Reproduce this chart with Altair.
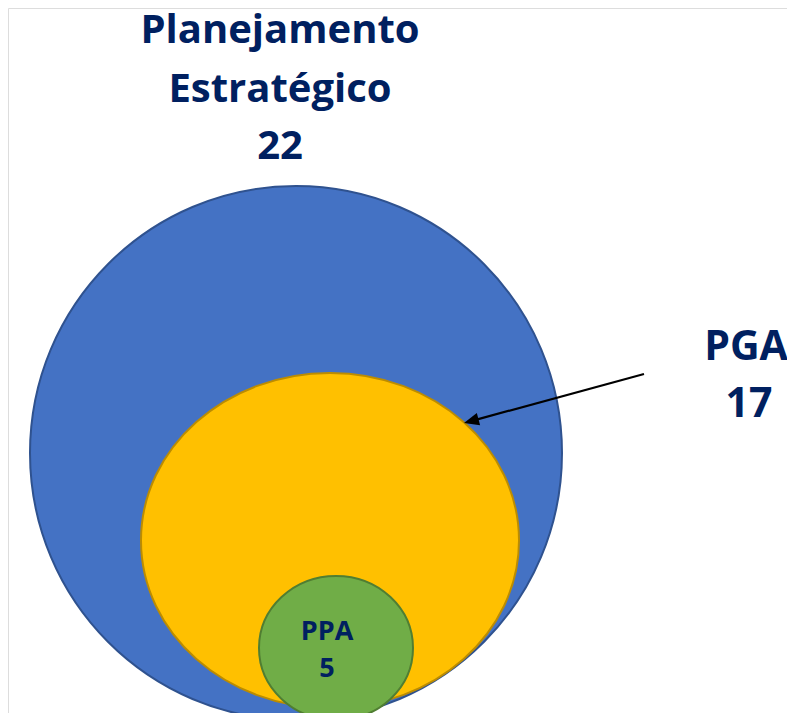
import math
import altair as alt
import pandas as pd

# ---- data ----
set_names = ["Planejamento Estratégico", "PGA", "PPA"]
set_counts = [22, 17, 5]

# ---- layout (screen pixels of the 795x721 page) ----
W, H, M = 795, 721, 8
PW, PH = W - 2 * M, H - 2 * M          # drawing area that fits inside the page
circ_cx = [296, 330, 336]
circ_cy = [453, 540.5, 648]
circ_rx = [266, 189, 77]
circ_ry = [267, 167.5, 72]
circ_fill = ["#4472C4", "#FFC000", "#70AD47"]
circ_stroke = ["#2F528F", "#BC8C00", "#507E32"]

def ellipse_path(k):
    return f"M-1,0A1,{k:.4f} 0 1,1 1,0A1,{k:.4f} 0 1,1 -1,0Z"

circles = pd.DataFrame({
    "name": set_names,
    "x": circ_cx,
    "y": circ_cy,
    "size": [(2 * r) ** 2 for r in circ_rx],
    "shape": [ellipse_path(ry / rx) for rx, ry in zip(circ_rx, circ_ry)],
    "fill": circ_fill,
    "stroke": circ_stroke,
    "order": [0, 1, 2],
})

# labels
title_lines = ["Planejamento", "Estratégico", str(set_counts[0])]
pga_lines = [set_names[1], str(set_counts[1])]
ppa_lines = [set_names[2], str(set_counts[2])]

labels = pd.DataFrame({
    "text": title_lines + pga_lines + ppa_lines,
    "x": [280, 280, 280, 746, 749, 327, 327],
    "y": [43, 101.5, 159, 360, 417, 640, 677],
    "fs": [40, 40, 40, 41, 41, 27, 27],
})

arrow_start = (644, 374)
arrow_tip = (464, 423)
ang = math.degrees(math.atan2(arrow_start[1] - arrow_tip[1], arrow_start[0] - arrow_tip[0]))
ang = ang % 360
head_len = 15
shaft_end = (arrow_tip[0] + (head_len - 3) * math.cos(math.radians(ang)),
             arrow_tip[1] + (head_len - 3) * math.sin(math.radians(ang)))

shaft = pd.DataFrame({"x": [arrow_start[0]], "y": [arrow_start[1]],
                      "x2": [shaft_end[0]], "y2": [shaft_end[1]]})
head = pd.DataFrame({"x": [arrow_tip[0]], "y": [arrow_tip[1]], "angle": [ang]})

xs = alt.Scale(domain=[M, M + PW], range=[0, PW])
ys = alt.Scale(domain=[M, M + PH], range=[0, PH])

circ_layer = alt.Chart(circles).mark_point(filled=True, opacity=1, strokeWidth=2).encode(
    x=alt.X("x:Q", scale=xs, axis=None),
    y=alt.Y("y:Q", scale=ys, axis=None),
    size=alt.Size("size:Q", scale=None),
    shape=alt.Shape("shape:N", scale=None),
    fill=alt.Fill("fill:N", scale=None),
    stroke=alt.Stroke("stroke:N", scale=None),
    order=alt.Order("order:Q"),
)

shaft_layer = alt.Chart(shaft).mark_rule(color="black", strokeWidth=2.2).encode(
    x=alt.X("x:Q", scale=xs, axis=None),
    y=alt.Y("y:Q", scale=ys, axis=None),
    x2="x2:Q",
    y2="y2:Q",
)

head_layer = alt.Chart(head).mark_point(
    shape="M0,0L1,-0.42L1,0.42Z", filled=True, opacity=1, color="black",
    size=(2 * head_len) ** 2,
).encode(
    x=alt.X("x:Q", scale=xs, axis=None),
    y=alt.Y("y:Q", scale=ys, axis=None),
    angle=alt.Angle("angle:Q", scale=None),
)

text_layer = alt.Chart(labels).mark_text(
    font="Open Sans", fontWeight="bold", color="#002060", align="center", baseline="alphabetic",
).encode(
    x=alt.X("x:Q", scale=xs, axis=None),
    y=alt.Y("y:Q", scale=ys, axis=None),
    text="text:N",
    size=alt.Size("fs:Q", scale=None),
)

chart = alt.layer(circ_layer, shaft_layer, head_layer, text_layer).properties(
    width=PW, height=PH, padding=0, autosize="none",
).configure_view(stroke=None).configure(background="white")

chart.save("out.html", embed_options={"renderer": "svg", "actions": False})
